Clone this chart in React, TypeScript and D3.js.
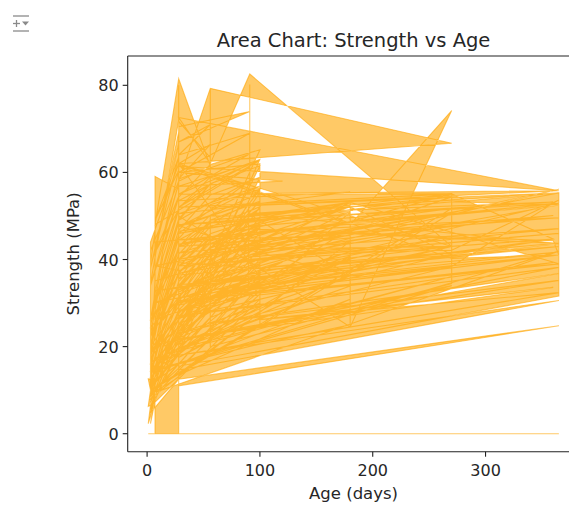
import React from "react";
import * as d3 from "d3";

type Pt = [number, number]; // [age (days), strength (MPa)]

const X_TICKS = [0, 100, 200, 300];
const Y_TICKS = [0, 20, 40, 60, 80];
const TITLE = "Area Chart: Strength vs Age";
const X_LABEL = "Age (days)";
const Y_LABEL = "Strength (MPa)";

const openingRows: Pt[] = [
  [28, 79.99], [28, 61.89], [270, 40.27], [365, 41.05], [360, 44.3], [90, 47.03], [365, 43.7], [28, 36.45],
  [28, 45.85], [28, 39.29], [90, 38.07], [28, 28.02], [270, 43.01], [90, 42.33], [28, 47.81], [90, 52.91],
  [90, 39.36], [365, 56.14], [90, 40.56], [180, 42.62], [180, 41.84], [28, 28.24], [3, 8.06], [180, 44.21],
  [365, 52.52], [270, 53.3], [270, 41.15], [180, 52.12], [28, 37.43], [7, 38.6], [365, 55.26], [365, 52.91],
  [180, 41.72], [270, 42.13], [365, 53.69], [270, 38.41], [28, 30.08], [90, 37.72], [90, 42.23], [180, 36.25],
  [90, 50.46], [365, 43.7], [365, 39.0], [180, 53.1], [90, 41.54], [7, 35.08], [3, 15.05], [180, 40.76],
  [7, 26.26], [7, 32.82], [180, 39.78], [180, 46.93], [90, 33.12], [90, 49.19], [7, 14.59], [7, 14.64],
  [365, 41.93], [3, 9.13], [180, 50.95], [28, 33.02], [270, 54.38], [270, 51.73], [3, 9.87], [270, 50.66],
  [180, 48.7], [270, 55.06], [360, 44.7], [7, 30.28], [28, 40.86], [28, 71.99],
];

const hpcThreeDay: Pt[] = [
  [3, 34.4], [3, 28.8], [3, 33.4], [3, 36.3], [3, 29.0], [3, 37.8], [3, 40.2], [3, 33.4], [3, 28.1], [3, 41.3],
  [3, 33.4], [3, 25.2], [3, 41.1], [3, 35.3], [3, 28.3], [3, 28.6], [3, 35.3], [3, 24.4], [3, 35.3], [3, 39.3],
];

const hpcSevenDay: Pt[] = [
  [7, 46.2], [7, 42.8], [7, 49.2], [7, 46.8], [7, 45.7], [7, 55.6], [7, 54.9], [7, 49.2], [7, 34.9], [7, 46.9],
  [7, 49.2], [7, 33.4], [7, 54.1], [7, 55.9], [7, 49.8], [7, 47.1], [7, 55.9], [7, 38.0], [7, 56.1], [7, 59.09],
];

const hpcTwentyEightDay: Pt[] = [
  [28, 56.1], [28, 59.8], [28, 56.7], [28, 61.8], [28, 51.3], [28, 68.3], [28, 66.9], [28, 60.3], [28, 50.7],
  [28, 56.4], [28, 60.3], [28, 55.5], [28, 68.5], [28, 71.3], [28, 74.7], [28, 52.2], [28, 67.7], [28, 66.0],
  [28, 74.5], [28, 71.7],
];

const hpcFiftySixDay: Pt[] = [
  [56, 63.4], [56, 64.9], [56, 64.3], [56, 65.2], [56, 66.1], [56, 68.3], [56, 71.3], [56, 55.2], [56, 71.7],
  [56, 79.3], [56, 67.6], [56, 70.7], [56, 61.9], [56, 69.3], [56, 78.8], [56, 58.8],
];

const hpcNinetyOneDay: Pt[] = [
  [91, 57.2], [91, 64.9], [91, 66.8], [91, 66.1], [91, 68.5], [91, 71.7], [91, 76.8], [91, 69.3], [91, 74.7],
  [91, 68.9], [91, 73.3], [91, 70.7], [91, 72.3], [91, 80.2], [91, 66.4], [91, 71.3], [91, 68.7], [91, 61.2],
];

const topBandRows: Pt[] = [
  [7, 48.0], [28, 81.5], [56, 61.5], [28, 58.0], [56, 79.3], [270, 66.7], [28, 62.0], [270, 43.0], [91, 82.6],
  [56, 62.0], [28, 72.6], [365, 55.8], [28, 61.4], [180, 48.0], [270, 74.2], [180, 24.5], [28, 50.0],
];

const fanRunLong: Pt[] = [
  [28, 55.0], [365, 55.8], [56, 52.0], [365, 55.3], [90, 50.5], [360, 53.2], [28, 48.0], [365, 52.9], [7, 44.0],
  [365, 52.5], [100, 46.5], [365, 49.6], [28, 43.0], [360, 50.1], [56, 41.5], [365, 47.1], [90, 40.0],
  [365, 46.0], [28, 38.5], [360, 44.7], [14, 33.0], [365, 43.7], [100, 37.5], [365, 43.0], [28, 34.2],
  [360, 41.6], [56, 33.0], [365, 41.05], [28, 30.5], [365, 39.0], [90, 31.6], [360, 39.3], [28, 27.0],
  [365, 38.2], [7, 20.5], [365, 36.8], [56, 25.4], [365, 35.2], [28, 21.8], [360, 33.6], [100, 26.2],
  [365, 32.4], [28, 18.0], [365, 30.6], [28, 14.6],
];

const fanRunMid: Pt[] = [
  [28, 52.0], [270, 55.06], [56, 49.0], [270, 54.4], [28, 46.5], [180, 53.1], [90, 47.5], [270, 51.7],
  [28, 43.5], [180, 52.1], [56, 42.0], [270, 50.7], [28, 40.0], [180, 48.7], [90, 41.0], [270, 47.7],
  [28, 36.8], [180, 46.9], [7, 30.0], [270, 45.4], [28, 33.5], [180, 44.2], [100, 38.0], [270, 43.0],
  [28, 30.0], [180, 41.8], [56, 31.5], [270, 41.2], [28, 26.5], [180, 39.8], [90, 33.0], [270, 38.4],
  [28, 23.0], [180, 36.3], [14, 18.0], [270, 36.1], [28, 19.5], [180, 33.9], [56, 22.5], [270, 34.0],
  [28, 16.0], [180, 30.9], [28, 13.5],
];

const loneWedge: Pt[] = [[28, 11.0], [365, 24.8], [28, 12.5]];

const ashCycles: Pt[] = [
  [3, 4.8], [14, 12.4], [28, 19.3], [56, 26.7], [100, 30.9],
  [3, 6.2], [14, 13.5], [28, 21.9], [56, 29.3], [100, 33.8],
  [3, 7.8], [14, 17.2], [28, 25.1], [56, 33.9], [100, 37.5],
  [3, 8.5], [14, 16.9], [28, 24.2], [56, 31.5], [100, 36.4],
  [3, 9.0], [14, 19.8], [28, 28.4], [56, 35.6], [100, 40.1],
  [3, 10.4], [14, 22.5], [28, 31.4], [56, 38.2], [100, 42.8],
  [3, 11.7], [14, 21.6], [28, 30.3], [56, 39.9], [100, 44.6],
  [3, 12.6], [14, 26.9], [28, 36.8], [56, 44.2], [100, 48.6],
  [3, 13.8], [14, 24.7], [28, 33.6], [56, 41.3], [100, 46.2],
  [3, 15.4], [14, 28.1], [28, 39.7], [56, 47.5], [100, 52.1],
  [3, 17.3], [14, 31.6], [28, 43.0], [56, 50.2], [100, 55.3],
  [3, 20.1], [14, 35.2], [28, 46.7], [56, 54.8], [100, 58.9],
  [3, 5.6], [14, 15.9], [28, 23.5], [56, 31.1], [100, 35.2],
  [3, 14.5], [14, 29.2], [28, 38.4], [56, 45.9], [100, 49.7],
  [3, 18.9], [14, 33.3], [28, 44.8], [56, 52.6], [100, 56.1],
  [3, 22.8], [14, 37.9], [28, 49.3], [56, 57.4], [100, 61.5],
  [3, 10.9], [14, 20.4], [28, 27.6], [56, 34.8], [100, 38.9],
  [3, 16.2], [14, 27.5], [28, 37.1], [56, 43.7], [100, 47.9],
  [3, 24.5], [14, 40.6], [28, 51.8], [56, 58.9], [100, 63.0],
  [3, 7.2], [14, 14.8], [28, 22.6], [56, 28.9], [100, 32.7],
  [3, 13.1], [14, 23.8], [28, 34.9], [56, 42.6], [100, 47.3],
  [3, 19.6], [14, 30.4], [28, 41.2], [56, 49.0], [100, 53.4],
  [3, 26.3], [14, 42.1], [28, 54.3], [56, 61.8], [100, 65.2],
  [3, 9.8], [14, 18.6], [28, 26.2], [56, 32.7], [100, 36.0],
];

const mixedRightDescending: Pt[] = [
  [28, 62.0], [56, 66.4], [28, 58.5], [90, 64.1], [28, 55.0], [100, 62.8], [28, 52.0], [56, 57.3], [28, 49.0],
  [90, 57.9], [28, 46.0], [120, 50.0], [28, 43.0], [56, 48.5], [28, 40.0], [100, 51.7], [28, 37.0], [90, 49.3],
  [28, 34.0], [56, 42.9], [28, 31.0], [120, 39.4], [28, 28.0], [90, 35.4], [28, 25.0], [56, 33.0], [28, 22.0],
  [100, 30.0], [28, 19.0], [56, 24.0], [28, 16.0],
];

const mixedLeftAscending: Pt[] = [
  [7, 12.0], [28, 18.5], [3, 14.0], [28, 21.5], [14, 20.0], [28, 24.5], [7, 19.4], [28, 27.5], [3, 18.3],
  [28, 30.5], [14, 26.0], [28, 33.5], [7, 27.8], [28, 36.5], [3, 22.4], [28, 39.5], [14, 30.1], [28, 42.5],
  [7, 31.2], [28, 45.5], [3, 26.6], [28, 48.5], [14, 38.4], [28, 51.5], [7, 41.6], [28, 54.5], [3, 34.0],
  [28, 57.5], [14, 45.0], [28, 60.5], [7, 49.0], [28, 63.5], [3, 38.0], [28, 66.5], [14, 52.0], [28, 69.3],
];

const mixedLaterAges: Pt[] = [
  [28, 70.5], [91, 74.0], [28, 67.0], [56, 71.0], [28, 64.0], [91, 69.0], [28, 60.0], [120, 58.0], [28, 56.8],
  [91, 62.0], [28, 53.5], [180, 55.5], [28, 50.5], [100, 56.9], [28, 47.5], [91, 53.0], [28, 44.5],
  [180, 45.5], [28, 41.5], [100, 47.0], [28, 38.5], [56, 45.0], [28, 35.5], [120, 46.9], [28, 32.5],
  [91, 41.0], [28, 29.5], [180, 40.0], [28, 26.5], [100, 35.0], [28, 23.5], [56, 30.0], [28, 20.5],
  [120, 31.0], [28, 17.5], [91, 26.0], [28, 13.8],
];

const broadMixRows: Pt[] = [
  [28, 48.0], [365, 55.3], [365, 31.6], [28, 15.5], [28, 60.0], [100, 62.0], [100, 25.0], [28, 14.0],
  [3, 10.0], [3, 42.0], [28, 58.0], [28, 55.0], [56, 55.0], [270, 55.06], [270, 34.5], [56, 20.0],
  [56, 50.0], [90, 50.0], [180, 53.1], [180, 25.0], [90, 20.0], [28, 16.0],
];

const earlyStrengthRows: Pt[] = [[3, 14.0], [3, 44.0], [28, 62.0], [28, 13.0]];

const earlyAgeRows: Pt[] = [
  [28, 13.0], [7, 9.6], [3, 2.3], [7, 7.4], [1, 2.3], [3, 6.5], [1, 6.3], [3, 10.0], [1, 12.6], [7, 12.5],
];

const allRows: Pt[] = [
  ...openingRows,
  ...hpcThreeDay,
  ...hpcSevenDay,
  ...hpcTwentyEightDay,
  ...hpcFiftySixDay,
  ...hpcNinetyOneDay,
  ...topBandRows,
  ...fanRunLong,
  ...fanRunMid,
  ...loneWedge,
  ...ashCycles,
  ...mixedRightDescending,
  ...mixedLeftAscending,
  ...mixedLaterAges,
  ...broadMixRows,
  ...earlyStrengthRows,
  ...earlyAgeRows,
];

const FONT = "'DejaVu Sans', sans-serif";

export default function App() {
  const W = 569;
  const H = 507;
  const left = 127.7;
  const right = 579.4;
  const top = 56;
  const bottom = 451.7;

  const ages = allRows.map((d) => d[0]);
  const strengths = allRows.map((d) => d[1]);
  const [a0, a1] = d3.extent(ages) as [number, number];
  const s1 = d3.max(strengths) as number;
  const padX = (a1 - a0) * 0.05;
  const padY = s1 * 0.05;

  const x = d3.scaleLinear().domain([a0 - padX, a1 + padX]).range([left, right]);
  const y = d3.scaleLinear().domain([0 - padY, s1 + padY]).range([bottom, top]);

  const areaPath = d3
    .area<Pt>()
    .x((d) => x(d[0]))
    .y0(() => y(0))
    .y1((d) => y(d[1]))(allRows) as string;

  const axisColor = "#222";
  const textColor = "#262626";

  return (
    <svg
      width={W}
      height={H}
      style={{ position: "absolute", left: 0, top: 0, background: "#fff" }}
      fontFamily={FONT}
    >
      <rect x={0} y={0} width={W} height={H} fill="#fff" />
      {/* notebook output icon */}
      <g stroke="#8a8a8a" strokeWidth={1.3} fill="none">
        <line x1={13} y1={16} x2={29} y2={16} />
        <line x1={13} y1={31} x2={29} y2={31} />
        <line x1={13} y1={23.5} x2={20} y2={23.5} />
        <line x1={16.5} y1={20} x2={16.5} y2={27} />
      </g>
      <path d="M22,21.5 L29,21.5 L25.5,25.5 Z" fill="#8a8a8a" />

      <defs>
        <clipPath id="plotClip">
          <rect x={left} y={top} width={right - left} height={bottom - top} />
        </clipPath>
      </defs>

      <g clipPath="url(#plotClip)">
        <path
          d={areaPath}
          fill="#FFA500"
          fillOpacity={0.6}
          stroke="#FFA500"
          strokeOpacity={0.6}
          strokeWidth={1.1}
          fillRule="nonzero"
        />
      </g>

      {/* spines (right spine lies beyond the visible frame) */}
      <g stroke={axisColor} strokeWidth={1.1} fill="none">
        <line x1={left} y1={top} x2={left} y2={bottom} />
        <line x1={left} y1={bottom} x2={right} y2={bottom} />
        <line x1={left} y1={top} x2={right} y2={top} />
      </g>

      {X_TICKS.map((t) => (
        <g key={"x" + t}>
          <line x1={x(t)} x2={x(t)} y1={bottom} y2={bottom + 5} stroke={axisColor} strokeWidth={1.1} />
          <text x={x(t)} y={bottom + 24} textAnchor="middle" fontSize={16} fill={textColor}>
            {t}
          </text>
        </g>
      ))}

      {Y_TICKS.map((t) => (
        <g key={"y" + t}>
          <line x1={left - 5} x2={left} y1={y(t)} y2={y(t)} stroke={axisColor} strokeWidth={1.1} />
          <text x={left - 9} y={y(t) + 6} textAnchor="end" fontSize={16} fill={textColor}>
            {t}
          </text>
        </g>
      ))}

      <text x={(left + right) / 2} y={499} textAnchor="middle" fontSize={16.5} fill={textColor}>
        {X_LABEL}
      </text>
      <text
        transform={`translate(79, ${(top + bottom) / 2}) rotate(-90)`}
        textAnchor="middle"
        fontSize={16.5}
        fill={textColor}
      >
        {Y_LABEL}
      </text>
      <text x={(left + right) / 2} y={47} textAnchor="middle" fontSize={19.5} fill={textColor}>
        {TITLE}
      </text>
    </svg>
  );
}
